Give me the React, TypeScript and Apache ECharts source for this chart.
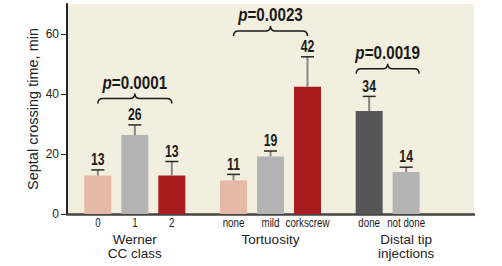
import React, { useEffect, useRef } from "react";
import * as echarts from "echarts";

const groups = ["Werner\nCC class", "Tortuosity", "Distal tip\ninjections"];
const subLabels = [["0", "1", "2"], ["none", "mild", "corkscrew"], ["done", "not done"]];
const means = [[12.8, 26.3, 12.8], [11.2, 19.2, 42.4], [34.3, 14.0]];
const upper = [[14.7, 29.7, 17.5], [13.2, 21.0, 52.4], [39.2, 15.6]];
const valueLabels = [["13", "26", "13"], ["11", "19", "42"], ["34", "14"]];
const pValues = ["0.0001", "0.0023", "0.0019"];
const braceY = [38.5, 61, 48.4];
const bracePad = [0, 0, 13];
const yTicks = [0, 20, 40, 60];

const PINK = "#E6B8A6";
const GRAY = "#B3B3B3";
const RED = "#A81B1E";
const DARK = "#565656";
const barColors = [[PINK, GRAY, RED], [PINK, GRAY, RED], [DARK, GRAY]];

const REG = "'Liberation Sans', Arial, sans-serif";
const BAR_W = 27;
const BAR_GAP = 0.37;
const SLOT = BAR_W * (1 + BAR_GAP);

export default function App() {
  const ref = useRef<HTMLDivElement>(null);
  useEffect(() => {
    document.body.style.margin = "0";
    if (!ref.current) return;
    const chart = echarts.init(ref.current, null, { renderer: "svg" });

    const barSeries = [0, 1, 2].map((s) => ({
      type: "bar",
      barWidth: BAR_W,
      barGap: `${BAR_GAP * 100}%`,
      data: groups.map((_, gi) =>
        means[gi][s] !== undefined
          ? { value: means[gi][s], itemStyle: { color: barColors[gi][s] } }
          : "-"
      ),
      z: 2,
    }));

    const errData: any[] = [];
    groups.forEach((_, gi) => {
      means[gi].forEach((m, s) => {
        errData.push([gi, s, m, upper[gi][s], valueLabels[gi][s], subLabels[gi][s]]);
      });
    });

    const errSeries = {
      type: "custom",
      clip: false,
      encode: { x: 0, y: 3 },
      z: 5,
      data: errData,
      renderItem: (params: any, api: any) => {
        const gi = api.value(0);
        const s = api.value(1);
        const m = api.value(2);
        const up = api.value(3);
        const d = errData[params.dataIndex];
        const c0 = api.coord([gi, 0]);
        const x = c0[0] + (s - 1) * SLOT;
        const yM = api.coord([gi, m])[1];
        const yU = api.coord([gi, up])[1];
        return {
          type: "group",
          children: [
            { type: "line", shape: { x1: x, y1: yM, x2: x, y2: yU }, style: { stroke: "#858585", lineWidth: 2 } },
            { type: "line", shape: { x1: x - 6.5, y1: yU, x2: x + 6.5, y2: yU }, style: { stroke: "#2a2a2a", lineWidth: 1.5 } },
            {
              type: "text",
              x,
              y: yU - 2,
              scaleX: 0.72,
              style: { text: d[4], x: 0, y: 0, align: "center", verticalAlign: "bottom", fontFamily: REG, fontWeight: "bold", fontSize: 17, fill: "#1a1a1a" },
            },
            {
              type: "text",
              x,
              y: c0[1] + 8.5,
              scaleX: 0.75,
              style: { text: d[5], x: 0, y: 0, align: "center", verticalAlign: "middle", fontFamily: REG, fontSize: 13, fill: "#1a1a1a" },
            },
          ],
        };
      },
    };

    const braceData = groups.map((_, gi) => [gi, braceY[gi], means[gi].length, bracePad[gi]]);
    const braceSeries = {
      type: "custom",
      clip: false,
      encode: { x: 0, y: 1 },
      z: 5,
      data: braceData,
      renderItem: (params: any, api: any) => {
        const gi = api.value(0);
        const n = api.value(2);
        const pad = api.value(3);
        const c = api.coord([gi, api.value(1)]);
        const x0 = c[0] - SLOT - pad;
        const x1 = c[0] + (n - 2) * SLOT + pad;
        const xm = (x0 + x1) / 2;
        const y = c[1];
        const pd = `M${x0},${y + 5} Q${x0},${y} ${x0 + 5},${y} L${xm - 5},${y} Q${xm},${y} ${xm},${y - 5} Q${xm},${y} ${xm + 5},${y} L${x1 - 5},${y} Q${x1},${y} ${x1},${y + 5}`;
        return {
          type: "group",
          children: [
            { type: "path", shape: { pathData: pd }, style: { stroke: "#1a1a1a", lineWidth: 1.5, fill: "none" } },
            {
              type: "text",
              x: xm,
              y: y - 7,
              scaleX: 0.8,
              style: {
                text: `{i|p}{b|=${pValues[gi]}}`,
                x: 0,
                y: 0,
                align: "center",
                verticalAlign: "bottom",
                rich: {
                  i: { fontFamily: REG, fontStyle: "italic", fontWeight: "bold", fontSize: 19, fill: "#1a1a1a" },
                  b: { fontFamily: REG, fontWeight: "bold", fontSize: 19, fill: "#1a1a1a" },
                },
              },
            },
          ],
        };
      },
    };

    chart.setOption({
      animation: false,
      grid: { left: 67, right: 28, top: 4, bottom: 52, show: true, backgroundColor: "#F3EFDE", borderWidth: 0 },
      xAxis: {
        type: "category",
        data: groups,
        axisLine: { lineStyle: { color: "#444", width: 2.5 } },
        axisTick: { show: false },
        axisLabel: { margin: 18, fontFamily: REG, fontSize: 13.5, lineHeight: 14, color: "#222" },
      },
      yAxis: {
        type: "value",
        min: 0,
        max: 70,
        interval: 20,
        name: "Septal crossing time, min",
        nameLocation: "middle",
        nameGap: 34,
        nameMoveOverlap: false,
        nameTextStyle: { fontFamily: REG, fontSize: 14.5, color: "#222", verticalAlign: "middle" },
        axisLine: { show: true, lineStyle: { color: "#222", width: 2 } },
        axisTick: { show: true, inside: false, length: 6, customValues: yTicks, lineStyle: { color: "#222", width: 1 } },
        axisLabel: { customValues: yTicks, margin: 8, fontFamily: REG, fontSize: 12, color: "#222" },
        splitLine: { show: false },
      },
      series: [...barSeries, errSeries, braceSeries],
    });
    return () => chart.dispose();
  }, []);
  return <div ref={ref} style={{ width: 502, height: 266 }} />;
}
